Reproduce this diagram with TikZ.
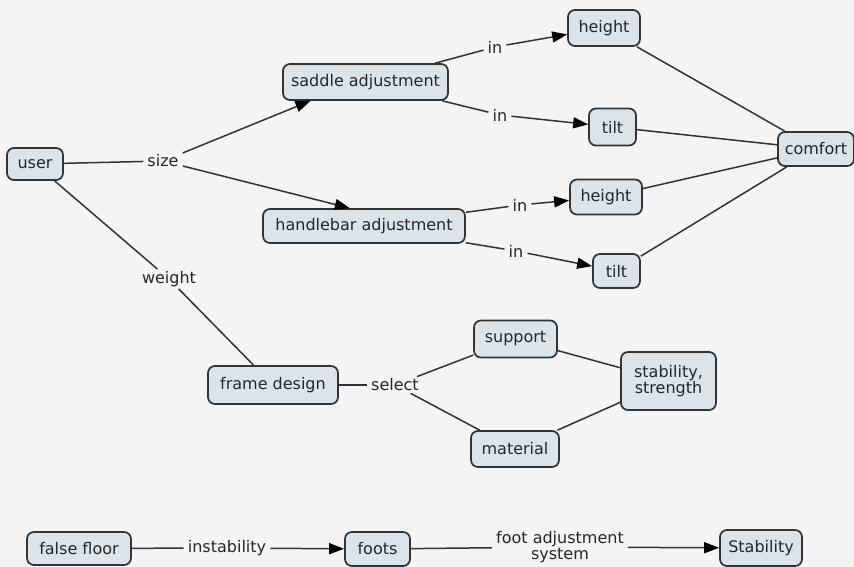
\documentclass[tikz,border=0pt]{standalone}
\usepackage{fontspec}
\setmainfont{DejaVu Sans}
\usetikzlibrary{arrows.meta,calc}
\definecolor{bgc}{HTML}{F4F4F4}
\definecolor{nodefill}{HTML}{DCE4EB}
\definecolor{edgec}{HTML}{333333}
\definecolor{txt}{HTML}{262626}
\begin{document}
\begin{tikzpicture}[x=1pt,y=-1pt,
  concept/.style={draw=edgec, line width=1.7pt, fill=nodefill, rounded corners=7pt,
    inner sep=0pt, font=\fontsize{16}{18}\selectfont, text=txt, align=center},
  lbl/.style={inner xsep=4pt, inner ysep=2pt, font=\fontsize{16}{18}\selectfont, text=txt, align=center},
  link/.style={draw=edgec, line width=1.5pt},
  arr/.style={link, -{Triangle[length=15pt,width=11pt,color=black]}}]
\useasboundingbox (0,0) rectangle (854,567);
\fill[bgc] (0,0) rectangle (854,567);

% concepts
\node[concept, minimum width=56pt, minimum height=32pt] (user) at (35,164) {user};
\node[concept, minimum width=165pt, minimum height=36pt] (saddle) at (365.5,82) {saddle adjustment};
\node[concept, minimum width=72pt, minimum height=36pt] (h1) at (604,28) {height};
\node[concept, minimum width=47pt, minimum height=37pt] (t1) at (612.5,127) {tilt};
\node[concept, minimum width=76pt, minimum height=34pt] (comfort) at (816,149) {comfort};
\node[concept, minimum width=202pt, minimum height=34pt] (handle) at (364,226) {handlebar adjustment};
\node[concept, minimum width=72pt, minimum height=35pt] (h2) at (606,197) {height};
\node[concept, minimum width=47pt, minimum height=34pt] (t2) at (616.5,271) {tilt};
\node[concept, minimum width=130pt, minimum height=38pt] (frame) at (273,385) {frame design};
\node[concept, minimum width=83pt, minimum height=37pt] (support) at (515.5,339) {support};
\node[concept, minimum width=95pt, minimum height=58pt] (stab) at (668.5,381) {stability,\\[-2pt]strength};
\node[concept, minimum width=88pt, minimum height=36pt] (material) at (515,449) {material};
\node[concept, minimum width=104pt, minimum height=33pt] (floor) at (79,548.5) {false floor};
\node[concept, minimum width=65pt, minimum height=34pt] (foots) at (377.5,549) {foots};
\node[concept, minimum width=82pt, minimum height=36pt] (Stab) at (761,548) {Stability};

% linking phrases
\node[lbl] (size) at (163,161) {size};
\node[lbl] (weight) at (169,279) {weight};
\node[lbl] (in1) at (495,47) {in};
\node[lbl] (in2) at (500,115) {in};
\node[lbl] (in3) at (520,205) {in};
\node[lbl] (in4) at (516,251) {in};
\node[lbl] (select) at (395,385) {select};
\node[lbl] (instab) at (227,548) {instability};
\node[lbl] (footadj) at (560,547) {foot adjustment\\[-2pt]system};

% connectors
\draw[link] (user) -- (size);
\draw[arr] (size) -- ($(saddle.south west)!0.17!(saddle.south east)$);
\draw[arr] (size) -- ($(handle.north west)!0.43!(handle.north east)$);
\draw[link] (user) -- (weight);
\draw[link] (weight) -- (frame);

\draw[link] (saddle) -- (in1);
\draw[arr] (in1) -- (h1);
\draw[link] (saddle) -- (in2);
\draw[arr] (in2) -- (t1);
\draw[link] (handle) -- (in3);
\draw[arr] (in3) -- (h2);
\draw[link] (handle) -- (in4);
\draw[arr] (in4) -- (t2);

\draw[link] (h1) -- (comfort);
\draw[link] (t1) -- (comfort);
\draw[link] (h2) -- (comfort);
\draw[link] (t2) -- (comfort);

\draw[link] (frame) -- (select);
\draw[link] (select) -- (support);
\draw[link] (select) -- (material);
\draw[link] (support) -- (stab);
\draw[link] (material) -- (stab);

\draw[link] (floor) -- (instab);
\draw[arr] (instab) -- (foots);
\draw[link] (foots) -- (footadj);
\draw[arr] (footadj) -- (Stab);
\end{tikzpicture}
\end{document}
